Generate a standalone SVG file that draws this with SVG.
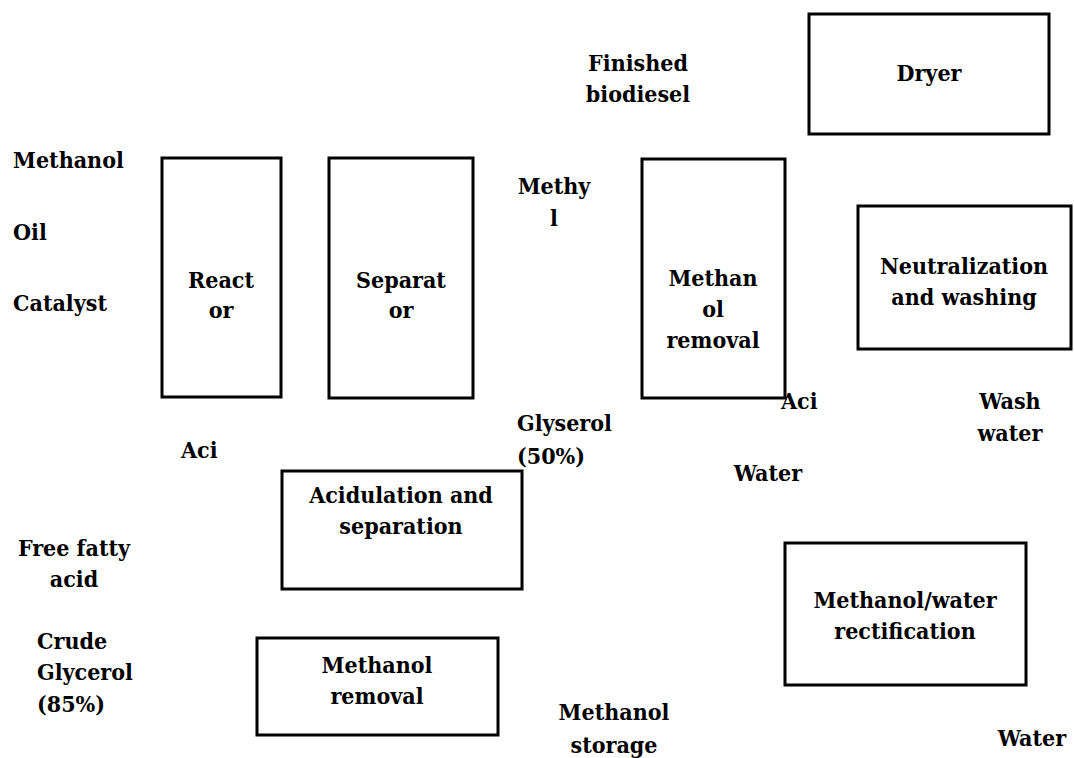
<svg xmlns="http://www.w3.org/2000/svg" width="1074" height="758" viewBox="0 0 1074 758">
<style>
  .box { fill: #fff; stroke: #000; stroke-width: 3; }
  text { font-family: "DejaVu Serif Condensed", "DejaVu Serif", serif; font-stretch: condensed; font-weight: bold; font-size: 23px; fill: #000; }
  .c { text-anchor: middle; }
</style>
<rect width="1074" height="758" fill="#fff"/>
<g id="connectors"></g>

<g id="reactor">
  <rect class="box" x="162" y="158" width="119" height="239"/>
  <text class="c" x="221" y="288">React</text>
  <text class="c" x="221" y="318">or</text>
</g>
<g id="separator">
  <rect class="box" x="329" y="158" width="144" height="240"/>
  <text class="c" x="401" y="288">Separat</text>
  <text class="c" x="401" y="318">or</text>
</g>
<g id="methanol-removal-1">
  <rect class="box" x="642" y="159" width="143" height="239"/>
  <text class="c" x="713" y="286">Methan</text>
  <text class="c" x="713" y="317">ol</text>
  <text class="c" x="713" y="348">removal</text>
</g>
<g id="dryer">
  <rect class="box" x="809" y="14" width="240" height="120"/>
  <text class="c" x="929" y="81">Dryer</text>
</g>
<g id="neutralization">
  <rect class="box" x="858" y="206" width="213" height="143"/>
  <text class="c" x="964" y="274">Neutralization</text>
  <text class="c" x="964" y="305">and washing</text>
</g>
<g id="acidulation">
  <rect class="box" x="282" y="471" width="240" height="118"/>
  <text class="c" x="401" y="503">Acidulation and</text>
  <text class="c" x="401" y="534">separation</text>
</g>
<g id="methanol-removal-2">
  <rect class="box" x="257" y="638" width="241" height="97"/>
  <text class="c" x="377" y="673">Methanol</text>
  <text class="c" x="377" y="704">removal</text>
</g>
<g id="rectification">
  <rect class="box" x="785" y="543" width="241" height="142"/>
  <text class="c" x="905" y="608">Methanol/water</text>
  <text class="c" x="905" y="639">rectification</text>
</g>

<g id="labels">
  <text class="c" x="638" y="71">Finished</text>
  <text class="c" x="638" y="102">biodiesel</text>
  <text x="13" y="168">Methanol</text>
  <text x="13" y="240">Oil</text>
  <text x="13" y="311">Catalyst</text>
  <text class="c" x="554" y="194">Methy</text>
  <text class="c" x="554" y="226">l</text>
  <text x="781" y="409">Aci</text>
  <text class="c" x="1010" y="409">Wash</text>
  <text class="c" x="1010" y="441">water</text>
  <text x="181" y="458">Aci</text>
  <text x="517" y="431">Glyserol</text>
  <text x="517" y="464">(50%)</text>
  <text class="c" x="768" y="481">Water</text>
  <text class="c" x="74" y="556">Free fatty</text>
  <text class="c" x="74" y="587">acid</text>
  <text x="37" y="649">Crude</text>
  <text x="37" y="680">Glycerol</text>
  <text x="37" y="712">(85%)</text>
  <text class="c" x="614" y="720">Methanol</text>
  <text class="c" x="614" y="753">storage</text>
  <text class="c" x="1032" y="746">Water</text>
</g>
</svg>
